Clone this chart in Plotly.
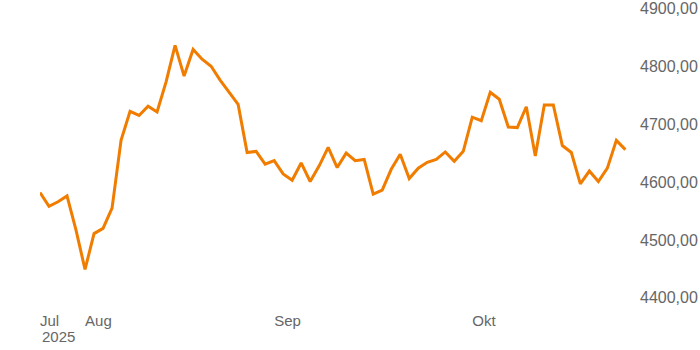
import plotly.graph_objects as go
import pandas as pd

dates = pd.bdate_range("2025-07-25", periods=66).strftime("%Y-%m-%d").tolist()
values = [
    4582, 4558, 4566, 4576, 4517, 4449, 4511, 4520, 4555, 4672,
    4722, 4715, 4731, 4721, 4773, 4836, 4783, 4829, 4812, 4800,
    4776, 4754, 4734, 4651, 4653, 4631, 4637, 4614, 4603, 4633,
    4601, 4628, 4660, 4625, 4650, 4637, 4639, 4579, 4586, 4622,
    4648, 4606, 4624, 4634, 4639, 4652, 4636, 4653, 4712, 4706,
    4755, 4743, 4695, 4694, 4730, 4645, 4733, 4733, 4663, 4651,
    4597, 4619, 4601, 4624, 4672, 4656,
]
tick_dates = ["2025-07-25", "2025-08-01", "2025-09-01", "2025-10-01"]
tick_text = ["Jul", "Aug", "Sep", "Okt"]
y_ticks = [4400, 4500, 4600, 4700, 4800, 4900]

xfont = dict(family="Liberation Sans, Arial, sans-serif", size=15, color="#666666")
yfont = dict(family="Liberation Sans, Arial, sans-serif", size=16, color="#666666")

fig = go.Figure(go.Scatter(
    x=dates, y=values, mode="lines",
    line=dict(color="#F07C00", width=3),
    hoverinfo="skip",
))

fig.update_layout(
    width=700, height=350,
    margin=dict(l=40, r=66, t=8, b=44),
    paper_bgcolor="white", plot_bgcolor="white",
    showlegend=False,
    separators=",.",
    font=xfont,
    xaxis=dict(
        type="date",
        rangebreaks=[dict(bounds=["sat", "mon"])],
        range=["2025-07-25", "2025-10-24 23:00"],
        tickvals=tick_dates, ticktext=tick_text,
        ticklabelposition="outside right",
        ticklabeloverflow="allow",
        ticklabelstandoff=4,
        automargin=False,
        showgrid=False, zeroline=False, showline=False, ticks="",
        tickfont=xfont,
    ),
    yaxis=dict(
        side="right",
        range=[4386, 4900.5],
        tickvals=y_ticks,
        tickformat=".2f",
        ticklabeloverflow="allow",
        automargin=False,
        showgrid=False, zeroline=False, showline=False, ticks="",
        ticklabelstandoff=5,
        tickfont=yfont,
    ),
    annotations=[dict(
        x="2025-07-25", xref="x", xanchor="left",
        y=0, yref="paper", yanchor="middle", yshift=-30,
        text="2025", showarrow=False, font=xfont,
    )],
)

fig.write_html("out.html")
